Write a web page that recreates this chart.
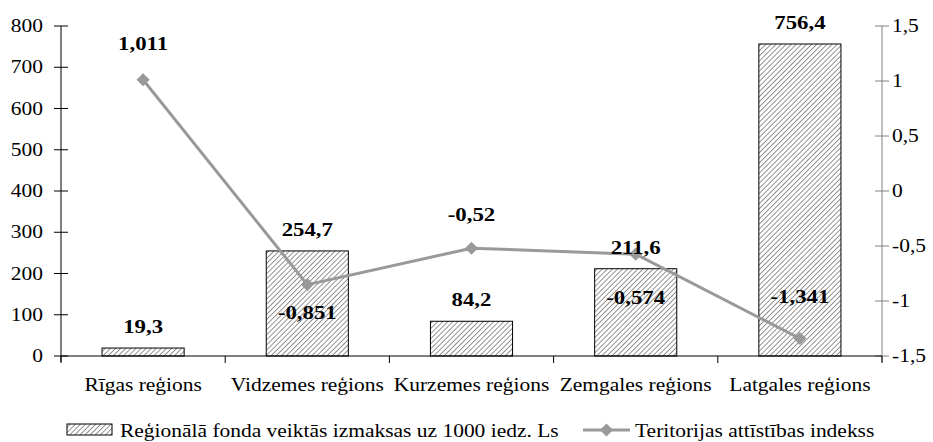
<!DOCTYPE html>
<html>
<head>
<meta charset="utf-8">
<script src="https://d3js.org/d3.v7.min.js"></script>
<style>
  body { margin: 0; background: #fff; }
  text { font-family: 'Liberation Serif', 'Times New Roman', serif; }
</style>
</head>
<body>
<div id="chart"></div>
<script>
var categories = ['Rīgas reģions', 'Vidzemes reģions', 'Kurzemes reģions', 'Zemgales reģions', 'Latgales reģions']
var payments = [19.3, 254.7, 84.2, 211.6, 756.4]
var devIndex = [1.011, -0.851, -0.52, -0.574, -1.341]
var leftTicks = [0, 100, 200, 300, 400, 500, 600, 700, 800]
var rightTicks = [-1.5, -1, -0.5, 0, 0.5, 1, 1.5]
var barName = 'Reģionālā fonda veiktās izmaksas uz 1000 iedz. Ls'
var lineName = 'Teritorijas attīstības indekss'

var width = 933
var height = 442
var margin = { top: 26, right: 51, bottom: 86, left: 61 }

// text in the picture is a bit wider than the font
var stretch = 1.13
var boldStretch = 1.2

var svg = d3
  .select('#chart')
  .append('svg')
  .attr('width', width)
  .attr('height', height)

var defs = svg.append('defs')
var pattern = defs
  .append('pattern')
  .attr('id', 'hatch')
  .attr('patternUnits', 'userSpaceOnUse')
  .attr('width', 3.6)
  .attr('height', 3.6)
  .attr('patternTransform', 'rotate(45)')
pattern.append('rect').attr('width', 3.6).attr('height', 3.6).attr('fill', '#fff')
pattern
  .append('line')
  .attr('x1', 0).attr('y1', 0)
  .attr('x2', 0).attr('y2', 3.6)
  .attr('stroke', '#5a5a5a')
  .attr('stroke-width', 1.3)

var x = d3
  .scaleBand()
  .domain(categories)
  .range([margin.left, width - margin.right])
  .paddingInner(0.5)
  .paddingOuter(0.25)

var yLeft = d3
  .scaleLinear()
  .domain([0, 800])
  .range([height - margin.bottom, margin.top])

var yRight = d3
  .scaleLinear()
  .domain([-1.5, 1.5])
  .range([height - margin.bottom, margin.top])

var comma = v => String(v).replace('.', ',')

function label(sel, px, py, str, anchor, bold) {
  var s = bold ? boldStretch : stretch
  return sel
    .append('text')
    .attr('transform', 'translate(' + px + ',' + py + ') scale(' + s + ',1)')
    .attr('text-anchor', anchor)
    .attr('font-size', 19)
    .attr('font-weight', bold ? 'bold' : 'normal')
    .attr('fill', '#000')
    .text(str)
}

var x0 = margin.left
var x1 = width - margin.right
var yBase = height - margin.bottom

// left axis
var leftAxis = svg.append('g')
leftAxis.append('line')
  .attr('x1', x0).attr('x2', x0)
  .attr('y1', margin.top).attr('y2', yBase + 6)
  .attr('stroke', '#000')
leftTicks.forEach(t => {
  leftAxis.append('line')
    .attr('x1', x0 - 7).attr('x2', x0 + 7)
    .attr('y1', yLeft(t)).attr('y2', yLeft(t))
    .attr('stroke', '#000')
  label(leftAxis, x0 - 18, yLeft(t) + 6, String(t), 'end', false)
})

// right axis
var rightAxis = svg.append('g')
rightAxis.append('line')
  .attr('x1', x1).attr('x2', x1)
  .attr('y1', margin.top).attr('y2', yBase + 6)
  .attr('stroke', '#808080')
rightTicks.forEach(t => {
  rightAxis.append('line')
    .attr('x1', x1 - 7).attr('x2', x1 + 7)
    .attr('y1', yRight(t)).attr('y2', yRight(t))
    .attr('stroke', '#808080')
  label(rightAxis, x1 + 10, yRight(t) + 6, comma(t), 'start', false)
})

// bars
svg
  .selectAll('.bar')
  .data(payments)
  .enter()
  .append('rect')
  .attr('class', 'bar')
  .attr('x', (d, i) => x(categories[i]))
  .attr('width', x.bandwidth())
  .attr('y', d => yLeft(d))
  .attr('height', d => yBase - yLeft(d))
  .attr('fill', 'url(#hatch)')
  .attr('stroke', '#000')
  .attr('stroke-width', 1)

// bottom axis
var bottomAxis = svg.append('g')
bottomAxis.append('line')
  .attr('x1', x0).attr('x2', x1)
  .attr('y1', yBase).attr('y2', yBase)
  .attr('stroke', '#000')
d3.range(categories.length + 1).forEach(i => {
  var bx = x0 + i * x.step()
  bottomAxis.append('line')
    .attr('x1', bx).attr('x2', bx)
    .attr('y1', yBase).attr('y2', yBase + 7)
    .attr('stroke', '#000')
})
categories.forEach(c => {
  label(bottomAxis, x(c) + x.bandwidth() / 2, 391, c, 'middle', false)
})

// line
var cx = (d, i) => x(categories[i]) + x.bandwidth() / 2
var line = d3
  .line()
  .x(cx)
  .y(d => yRight(d))

svg
  .append('path')
  .datum(devIndex)
  .attr('d', line)
  .attr('fill', 'none')
  .attr('stroke', '#999999')
  .attr('stroke-width', 3)

var diamond = d3.symbol().type(d3.symbolDiamond2).size(110)
svg
  .selectAll('.marker')
  .data(devIndex)
  .enter()
  .append('path')
  .attr('class', 'marker')
  .attr('d', diamond)
  .attr('transform', (d, i) => 'translate(' + cx(d, i) + ',' + yRight(d) + ')')
  .attr('fill', '#999999')

// value labels
var barLabels = svg.append('g')
payments.forEach((d, i) => {
  label(barLabels, cx(d, i), yLeft(d) - 15, comma(d), 'middle', true)
})
var lineDy = [-30, 34, -27, 50, -36]
var lineLabels = svg.append('g')
devIndex.forEach((d, i) => {
  label(lineLabels, cx(d, i), yRight(d) + lineDy[i], comma(d), 'middle', true)
})

// legend
var legend = svg.append('g')
legend.append('rect')
  .attr('x', 67).attr('y', 424)
  .attr('width', 45).attr('height', 11)
  .attr('fill', 'url(#hatch)')
  .attr('stroke', '#000')
label(legend, 120, 437, barName, 'start', false)
legend.append('line')
  .attr('x1', 583).attr('x2', 630)
  .attr('y1', 430).attr('y2', 430)
  .attr('stroke', '#999999')
  .attr('stroke-width', 3)
legend.append('path')
  .attr('d', diamond)
  .attr('transform', 'translate(606.5,430)')
  .attr('fill', '#999999')
label(legend, 635, 437, lineName, 'start', false)
</script>
</body>
</html>
